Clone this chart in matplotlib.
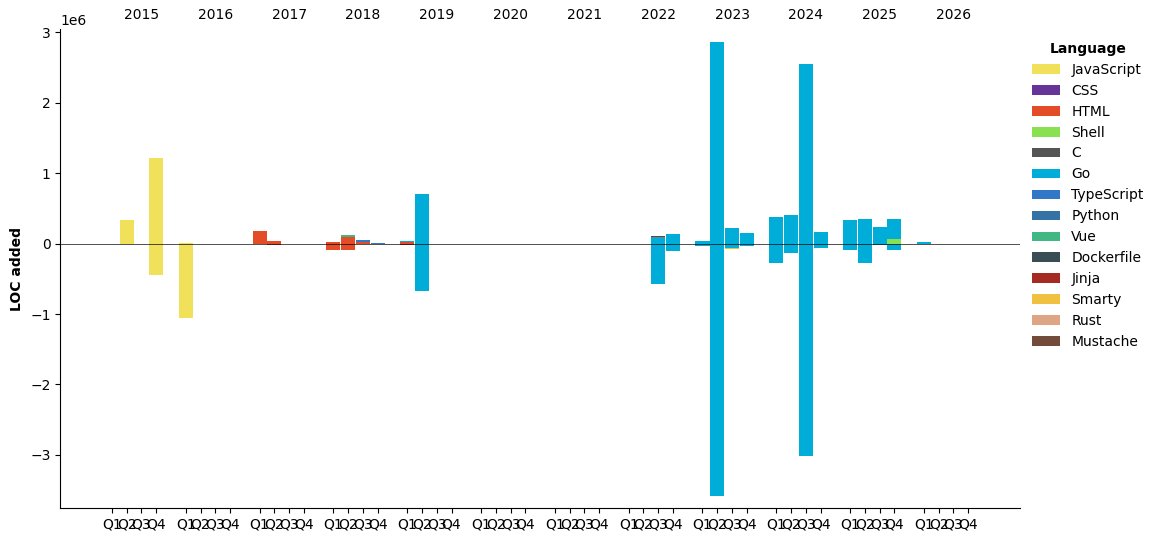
import numpy as np
import matplotlib.pyplot as plt
import matplotlib.transforms as mtransforms

years = list(range(2015, 2027))
quarter_labels = ["Q1", "Q2", "Q3", "Q4"]

languages = ["JavaScript", "CSS", "HTML", "Shell", "C", "Go", "TypeScript",
             "Python", "Vue", "Dockerfile", "Jinja", "Smarty", "Rust", "Mustache"]
lang_colors = ["#f1e05a", "#663399", "#e34c26", "#89e051", "#555555", "#00add8",
               "#3178c6", "#3572a5", "#41b883", "#384d54", "#a52a22", "#f0c040",
               "#dea584", "#724b3b"]

# LOC added per language and quarter (only non-zero quarters listed)
added = {
    "JavaScript": {"2015Q2": 340_000, "2015Q4": 1_220_000, "2016Q1": 14_000},
    "HTML": {"2017Q1": 180_000, "2017Q2": 40_000, "2018Q1": 28_000, "2018Q2": 100_000,
             "2018Q3": 25_000, "2019Q1": 25_000},
    "Shell": {"2025Q4": 70_000},
    "Go": {"2019Q1": 15_000, "2019Q2": 700_000, "2022Q3": 100_000, "2022Q4": 130_000,
           "2023Q1": 43_000, "2023Q2": 2_865_000, "2023Q3": 227_000, "2023Q4": 156_000,
           "2024Q1": 380_000, "2024Q2": 410_000, "2024Q3": 2_550_000, "2024Q4": 170_000,
           "2025Q1": 340_000, "2025Q2": 355_000, "2025Q3": 240_000, "2025Q4": 280_000,
           "2026Q1": 25_000},
    "TypeScript": {"2018Q3": 30_000, "2018Q4": 12_000},
    "Vue": {"2018Q2": 22_000},
    "Jinja": {"2022Q3": 14_000},
    "Smarty": {"2022Q4": 10_000},
}

# LOC deleted per language and quarter (drawn below zero)
deleted = {
    "JavaScript": {"2015Q4": 450_000, "2016Q1": 1_060_000},
    "HTML": {"2017Q1": 5_000, "2017Q2": 25_000, "2018Q1": 85_000, "2018Q2": 85_000,
             "2019Q1": 20_000},
    "Go": {"2019Q2": 680_000, "2022Q3": 570_000, "2022Q4": 100_000, "2023Q1": 30_000,
           "2023Q2": 3_590_000, "2023Q3": 60_000, "2023Q4": 40_000, "2024Q1": 270_000,
           "2024Q2": 140_000, "2024Q3": 3_020_000, "2024Q4": 60_000, "2025Q1": 85_000,
           "2025Q2": 270_000, "2025Q3": 20_000, "2025Q4": 85_000, "2026Q1": 10_000},
    "TypeScript": {"2018Q3": 5_000},
    "Smarty": {"2023Q3": 10_000},
}

quarters = [f"{y}Q{q + 1}" for y in years for q in range(4)]
xpos = np.array([yi * 5 + q for yi in range(len(years)) for q in range(4)], dtype=float)


def to_array(d):
    return np.array([d.get(k, 0) for k in quarters], dtype=float)


fig, ax = plt.subplots(figsize=(11.59, 5.42), dpi=100)
fig.subplots_adjust(left=0.052, right=0.88, top=0.946, bottom=0.063)

pos_bottom = np.zeros(len(quarters))
neg_bottom = np.zeros(len(quarters))
for lang, col in zip(languages, lang_colors):
    a = to_array(added.get(lang, {}))
    d = to_array(deleted.get(lang, {}))
    ax.bar(xpos, a, width=0.95, bottom=pos_bottom, color=col, label=lang, linewidth=0)
    ax.bar(xpos, -d, width=0.95, bottom=-neg_bottom, color=col, linewidth=0)
    pos_bottom += a
    neg_bottom += d

ax.axhline(0, color="black", linewidth=0.6, alpha=0.8)

ax.set_xticks(xpos)
ax.set_xticklabels(quarter_labels * len(years))
ax.set_xlim(-3.5, 61.5)
ax.set_ylim(-3.752e6, 3.043e6)

trans = mtransforms.blended_transform_factory(ax.transData, ax.transAxes)
for yi, yr in enumerate(years):
    ax.text(yi * 5 + 2, 1.015, str(yr), transform=trans, ha="center", va="bottom", fontsize=10)

ax.set_ylabel("LOC added", fontweight="bold")
ax.spines["top"].set_visible(False)
ax.spines["right"].set_visible(False)

leg = ax.legend(title="Language", loc="upper left", bbox_to_anchor=(1.0, 1.0), frameon=False)
leg.get_title().set_fontweight("bold")

fig.savefig("out.png", dpi=100)
